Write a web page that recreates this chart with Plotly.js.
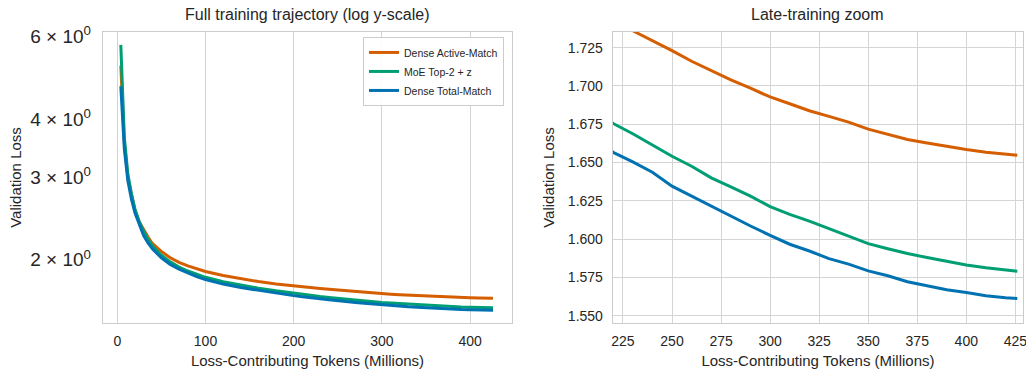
<!DOCTYPE html>
<html>
<head>
<meta charset="utf-8">
<script src="https://cdn.plot.ly/plotly-3.0.1.min.js"></script>
<style>html,body{margin:0;padding:0;background:#fff;}#chart{width:1026px;height:373px;}</style>
</head>
<body>
<div id="chart"></div>
<script>
// Loss-contributing tokens (millions)
const tokensM = [4, 8, 12, 16, 20, 25, 30, 35, 40, 50, 60, 70, 80, 90, 100,
  120, 140, 160, 180, 200, 210,
  220, 230, 240, 250, 260, 270, 280, 290, 300, 310, 320, 330, 340, 350, 360, 370, 380, 390, 400, 410, 420, 426];

const denseActiveMatch = [5.20, 3.55, 3.00, 2.74, 2.55, 2.41, 2.315, 2.235, 2.165, 2.085, 2.02, 1.975, 1.942, 1.913, 1.888,
  1.852, 1.822, 1.797, 1.776, 1.758, 1.750,
  1.7425, 1.736, 1.7296, 1.723, 1.7161, 1.7098, 1.704, 1.6985, 1.6928, 1.6884, 1.6838, 1.6801, 1.6764, 1.6718, 1.6682, 1.665, 1.6628, 1.6606, 1.6585, 1.6567, 1.6554, 1.6548];

const moeTop2z = [5.76, 3.65, 3.05, 2.77, 2.57, 2.41, 2.30, 2.21, 2.14, 2.045, 1.98, 1.93, 1.893, 1.862, 1.835,
  1.795, 1.765, 1.740, 1.717, 1.696, 1.686,
  1.6755, 1.6688, 1.6617, 1.6541, 1.6476, 1.640, 1.6342, 1.6281, 1.6212, 1.6162, 1.6118, 1.6068, 1.6021, 1.5971, 1.5938, 1.5906, 1.588, 1.5854, 1.5832, 1.5813, 1.5797, 1.5791];

const denseTotalMatch = [4.70, 3.45, 2.95, 2.70, 2.52, 2.37, 2.25, 2.17, 2.11, 2.02, 1.955, 1.91, 1.873, 1.842, 1.815,
  1.775, 1.745, 1.72, 1.698, 1.677, 1.667,
  1.6567, 1.6504, 1.6437, 1.6346, 1.6281, 1.6212, 1.6151, 1.6086, 1.6025, 1.5967, 1.5923, 1.5873, 1.5837, 1.5793, 1.5761, 1.5722, 1.5696, 1.567, 1.5652, 1.5631, 1.5618, 1.5613];

const seriesNames = ["Dense Active-Match", "MoE Top-2 + z", "Dense Total-Match"];
const seriesColors = ["#D55E00", "#009E73", "#0072B2"];
const seriesValues = [denseActiveMatch, moeTop2z, denseTotalMatch];

const leftYTickVals = [2, 3, 4, 6];
const leftYTickText = ["2 × 10<sup>0</sup>", "3 × 10<sup>0</sup>", "4 × 10<sup>0</sup>", "6 × 10<sup>0</sup>"];
const leftXTickVals = [0, 100, 200, 300, 400];
const rightXTickVals = [225, 250, 275, 300, 325, 350, 375, 400, 425];
const rightYTickVals = [1.550, 1.575, 1.600, 1.625, 1.650, 1.675, 1.700, 1.725];

const FONT = "Liberation Sans, Arial, sans-serif";
const TXT = "#262626";
const GRID = "#d4d4d4";

const traces = [];
seriesValues.forEach((ys, i) => {
  traces.push({x: tokensM, y: ys, type: "scatter", mode: "lines", name: seriesNames[i],
    line: {color: seriesColors[i], width: 3}, xaxis: "x", yaxis: "y", legendgroup: "g" + i});
});
seriesValues.forEach((ys, i) => {
  traces.push({x: tokensM, y: ys, type: "scatter", mode: "lines", name: seriesNames[i], showlegend: false,
    line: {color: seriesColors[i], width: 3}, xaxis: "x2", yaxis: "y2", legendgroup: "g" + i});
});

const axisCommon = {
  showline: true, mirror: true, linecolor: "#cccccc", linewidth: 1.25,
  gridcolor: GRID, gridwidth: 1, zeroline: false, ticks: "", ticklabeloverflow: "allow",
  tickfont: {family: FONT, size: 14, color: TXT}, automargin: false
};

const layout = {
  width: 1026, height: 373,
  margin: {l: 103, r: 3, t: 32, b: 50},
  paper_bgcolor: "#ffffff", plot_bgcolor: "#ffffff",
  font: {family: FONT, color: TXT},
  showlegend: true,
  legend: {x: 0.2826, y: 0.983, xanchor: "left", yanchor: "top",
    bgcolor: "rgba(255,255,255,0.9)", bordercolor: "#cccccc", borderwidth: 1,
    font: {family: FONT, size: 10.5, color: TXT}, tracegroupgap: 0},
  xaxis: Object.assign({}, axisCommon, {domain: [0, 0.4446], range: [-16.2, 447.6],
    tickvals: leftXTickVals, showgrid: true, ticklabelstandoff: 5,
    title: {text: "Loss-Contributing Tokens (Millions)", font: {family: FONT, size: 15, color: TXT}, standoff: 7}}),
  yaxis: Object.assign({}, axisCommon, {type: "log", range: [0.166, 0.788],
    tickvals: leftYTickVals, ticktext: leftYTickText, showgrid: false, ticklabelstandoff: 7,
    tickfont: {family: FONT, size: 19, color: TXT},
    title: {text: "Validation Loss", font: {family: FONT, size: 15, color: TXT}, standoff: 5}}),
  xaxis2: Object.assign({}, axisCommon, {domain: [0.5543, 1], range: [219.9, 428.9], anchor: "y2",
    tickvals: rightXTickVals, showgrid: true, ticklabelstandoff: 5,
    title: {text: "Loss-Contributing Tokens (Millions)", font: {family: FONT, size: 15, color: TXT}, standoff: 7}}),
  yaxis2: Object.assign({}, axisCommon, {anchor: "x2", range: [1.5453, 1.7352],
    tickvals: rightYTickVals, tickformat: ".3f", showgrid: true, ticklabelstandoff: 6,
    title: {text: "Validation Loss", font: {family: FONT, size: 15, color: TXT}, standoff: 9}}),
  annotations: [
    {text: "Full training trajectory (log y-scale)", xref: "x domain", yref: "paper", x: 0.5, y: 1, yshift: 18,
      xanchor: "center", yanchor: "middle", showarrow: false, font: {family: FONT, size: 16, color: TXT}},
    {text: "Late-training zoom", xref: "x2 domain", yref: "paper", x: 0.5, y: 1, yshift: 18,
      xanchor: "center", yanchor: "middle", showarrow: false, font: {family: FONT, size: 16, color: TXT}}
  ]
};

Plotly.newPlot("chart", traces, layout, {displayModeBar: false, staticPlot: true});
</script>
</body>
</html>
